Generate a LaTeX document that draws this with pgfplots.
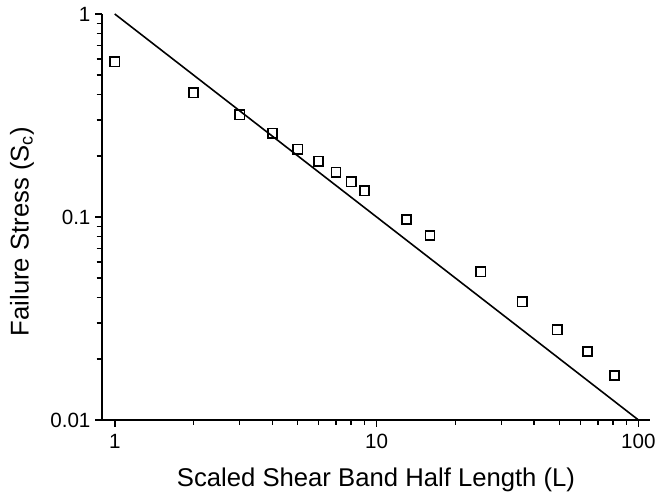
\documentclass[border=0pt]{standalone}
\usepackage{pgfplots}
\pgfplotsset{compat=1.18}
\usepackage{fontspec}
\setmainfont{Liberation Sans}
\begin{document}
\begin{tikzpicture}
\begin{axis}[
  at={(0,0)}, anchor=south west,
  scale only axis, width=412.5pt, height=305.25pt,
  xmode=log, ymode=log,
  xmin=0.892, xmax=111.1, ymin=0.01, ymax=1,
  axis x line*=bottom, axis y line*=left,
  axis line style={-, line width=1.4pt},
  tick align=outside,
  major tick length=5pt, minor tick length=3.8pt,
  every major tick/.style={black, line width=1.3pt},
  every minor tick/.style={black, line width=1.1pt},
  xtick={1,10,100}, xticklabels={1,10,100},
  ytick={0.01,0.1,1}, yticklabels={0.01,0.1,1},
  tick label style={font=\fontsize{15.5}{18}\selectfont},
  yticklabel style={xshift=0pt},
  xticklabel style={yshift=-2pt},
  xlabel={Scaled Shear Band Half Length (L)},
  ylabel={Failure Stress (S\textsubscript{c})},
  label style={font=\fontsize{19.3}{22}\selectfont},
  xlabel style={at={(axis description cs:0.5,0)}, anchor=base, yshift=-50pt},
  ylabel style={at={(axis description cs:-0.1455,0.464)}, anchor=center},
  clip=false,
]
\addplot[black, line width=1.2pt, no marks] coordinates {(1,1) (100,0.01)};
\addplot[only marks, mark=square, mark size=3.5pt, mark options={black, line width=1.2pt}] coordinates {
(1,0.582) (2,0.409) (3,0.319) (4,0.259) (5,0.216) (6,0.188) (7,0.166) (8,0.149) (9,0.1345)
(13,0.0970) (16,0.0810) (25,0.0536) (36,0.0382) (49,0.0278) (64,0.0217) (81,0.01656)
};
\end{axis}
\path (-76.5pt,-58.5pt) rectangle (418.5pt,315.75pt);
\end{tikzpicture}
\end{document}
